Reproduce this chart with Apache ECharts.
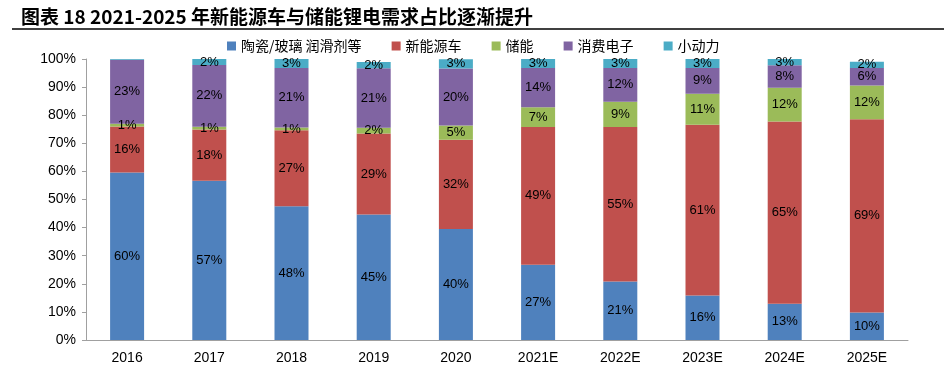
<!DOCTYPE html>
<html><head><meta charset="utf-8">
<script src="https://cdn.jsdelivr.net/npm/echarts@6/dist/echarts.min.js"></script>
<style>html,body{margin:0;padding:0;background:#fff}#c{width:944px;height:365px}</style>
</head><body><div id="c"></div>
<script>
var categories = ['2016','2017','2018','2019','2020','2021E','2022E','2023E','2024E','2025E'];
var seriesNames = ['陶瓷/玻璃 润滑剂等','新能源车','储能','消费电子','小动力'];
var ceramics = [59.6, 56.7, 47.6, 44.7, 39.5, 26.8, 20.8, 15.8, 12.9, 9.8];
var nev      = [16.4, 18.2, 27.0, 28.8, 31.8, 49.0, 55.0, 60.8, 64.9, 68.8];
var storage  = [1.0, 1.0, 1.0, 2.0, 5.0, 7.0, 9.0, 11.0, 12.0, 12.0];
var consumer = [22.7, 22.0, 21.2, 21.2, 20.3, 14.0, 12.0, 9.2, 8.0, 6.2];
var smallPower = [0.3, 2.1, 3.2, 2.2, 3.3, 3.2, 3.2, 3.2, 3.0, 2.2];
var yTicks = [0,10,20,30,40,50,60,70,80,90,100];
var colors = ['#4F81BD','#C0504D','#9BBB59','#8064A2','#4BACC6'];
var dataSets = [ceramics, nev, storage, consumer, smallPower];

var chart = echarts.init(document.getElementById('c'));
var series = dataSets.map(function(d, i){
  return {
    name: seriesNames[i], type: 'bar', stack: 'all', data: d,
    barWidth: 34,
    itemStyle: {color: colors[i]},
    label: {show: true, position: 'inside', color: '#000', fontSize: 13,
      fontFamily: 'Liberation Sans, Arial, sans-serif',
      formatter: function(p){ var v = Math.round(p.value); return v >= 1 ? v + '%' : ''; }}
  };
});
chart.setOption({
  animation: false,
  title: {text: '图表 18 2021-2025 年新能源车与储能锂电需求占比逐渐提升', left: 16, top: 2,
    textStyle: {fontSize: 19, fontWeight: 'bold', color: '#000', fontFamily: 'Noto Sans CJK SC, sans-serif'}},
  graphic: [{type: 'line', shape: {x1: 12, y1: 29, x2: 944, y2: 29}, style: {stroke: '#000', lineWidth: 1.5}}],
  legend: {left: 222, top: 34, itemWidth: 9, itemHeight: 9, itemGap: 30, icon: 'rect',
    textStyle: {fontSize: 14, color: '#000', fontFamily: 'Noto Sans CJK SC, sans-serif'},
    data: seriesNames},
  grid: {left: 86, right: 36, top: 59, bottom: 24, containLabel: false},
  xAxis: {type: 'category', data: categories,
    axisLine: {lineStyle: {color: '#A0A0A0'}}, axisTick: {show: false},
    axisLabel: {fontSize: 14, color: '#000', margin: 11, fontFamily: 'Liberation Sans, Arial, sans-serif'}},
  yAxis: {type: 'value', min: 0, max: 100, interval: 10,
    axisLine: {show: true, lineStyle: {color: '#A0A0A0'}},
    axisTick: {show: true, length: 4, lineStyle: {color: '#A0A0A0'}},
    splitLine: {show: false},
    axisLabel: {fontSize: 14, color: '#000', margin: 10, fontFamily: 'Liberation Sans, Arial, sans-serif',
      formatter: function(v){ return yTicks.indexOf(v) >= 0 ? v + '%' : ''; }}},
  series: series
});
</script></body></html>
